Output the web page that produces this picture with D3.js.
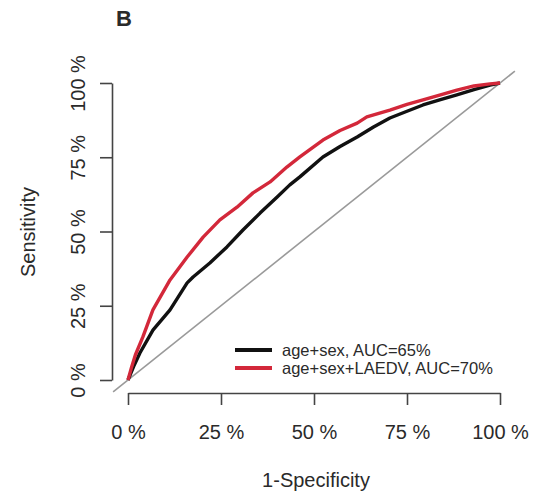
<!DOCTYPE html>
<html>
<head>
<meta charset="utf-8">
<script src="https://cdn.jsdelivr.net/npm/d3@7"></script>
<style>
  body { margin: 0; background: #fff; }
  text { font-family: "Liberation Sans", Arial, sans-serif; fill: #2a2a2a; }
</style>
</head>
<body>
<svg id="chart"></svg>
<script>
// ROC data (1-specificity, sensitivity)
var fprBase = [0, 0.015, 0.032, 0.067, 0.113, 0.159, 0.175, 0.22, 0.266, 0.309, 0.355, 0.401, 0.435, 0.462, 0.524, 0.57, 0.616, 0.66, 0.704, 0.75, 0.793, 0.84, 0.884, 0.93, 0.973, 1];
var tprBase = [0, 0.045, 0.091, 0.168, 0.236, 0.327, 0.347, 0.394, 0.448, 0.505, 0.562, 0.616, 0.657, 0.684, 0.751, 0.786, 0.818, 0.852, 0.882, 0.905, 0.926, 0.944, 0.96, 0.978, 0.993, 1];
var fprLaedv = [0, 0.01, 0.02, 0.04, 0.067, 0.113, 0.159, 0.202, 0.247, 0.293, 0.336, 0.382, 0.427, 0.462, 0.524, 0.57, 0.616, 0.642, 0.704, 0.75, 0.793, 0.84, 0.884, 0.93, 0.973, 1];
var tprLaedv = [0, 0.045, 0.085, 0.145, 0.236, 0.337, 0.414, 0.481, 0.539, 0.582, 0.63, 0.667, 0.717, 0.751, 0.808, 0.84, 0.865, 0.886, 0.909, 0.928, 0.943, 0.96, 0.976, 0.99, 0.997, 1];

var tickValues = [0, 0.25, 0.5, 0.75, 1];
var legendLabels = ["age+sex, AUC=65%", "age+sex+LAEDV, AUC=70%"];
var seriesColors = ["#111111", "#d3283a"];

var svg = d3.select('#chart')
    .attr('width', 545)
    .attr('height', 503);

var x = d3.scaleLinear().domain([0, 1]).range([128, 500]);
var y = d3.scaleLinear().domain([0, 1]).range([380, 83]);

var pct = function (d) { return Math.round(d * 100) + " %"; };

// panel letter
svg.append("text")
    .attr("x", 124)
    .attr("y", 26)
    .attr("text-anchor", "middle")
    .style("font-size", "22px")
    .style("font-weight", "bold")
    .text("B");

// chance diagonal, extended over the plot region like abline()
var diag = [-0.04, 1.04];
svg.append("line")
    .attr("x1", x(diag[0])).attr("y1", y(diag[0]))
    .attr("x2", x(diag[1])).attr("y2", y(diag[1]))
    .attr("stroke", "#9a9a9a")
    .attr("stroke-width", 1.6);

// curves
var line = d3.line()
    .x(function (d) { return x(d[0]); })
    .y(function (d) { return y(d[1]); });

var series = [d3.zip(fprBase, tprBase), d3.zip(fprLaedv, tprLaedv)];
series.forEach(function (s, i) {
    svg.append("path")
        .datum(s)
        .attr("d", line)
        .attr("fill", "none")
        .attr("stroke", seriesColors[i])
        .attr("stroke-width", 3.4)
        .attr("stroke-linejoin", "round");
});

// x axis
var xAxis = d3.axisBottom(x)
    .tickValues(tickValues)
    .tickSize(12)
    .tickSizeOuter(0)
    .tickPadding(20)
    .tickFormat(pct);

var gx = svg.append("g")
    .attr("transform", "translate(0,393)")
    .call(xAxis);
gx.selectAll("text").style("font-size", "20px").attr("fill", "#2a2a2a");

// y axis, labels rotated as in base R
var yAxis = d3.axisLeft(y)
    .tickValues(tickValues)
    .tickSize(12)
    .tickSizeOuter(0)
    .tickFormat(pct);

var gy = svg.append("g")
    .attr("transform", "translate(112,0)")
    .call(yAxis);
gy.selectAll("text")
    .attr("x", 0)
    .attr("dy", 0)
    .attr("text-anchor", "middle")
    .attr("transform", "translate(-27,0) rotate(-90)")
    .style("font-size", "20px")
    .attr("fill", "#2a2a2a");

svg.selectAll(".domain, .tick line")
    .attr("stroke", "#444")
    .attr("stroke-width", 1.6);

// axis titles
svg.append("text")
    .attr("x", 316)
    .attr("y", 487)
    .attr("text-anchor", "middle")
    .style("font-size", "20px")
    .text("1-Specificity");

svg.append("text")
    .attr("transform", "translate(35,232) rotate(-90)")
    .attr("text-anchor", "middle")
    .style("font-size", "20px")
    .text("Sensitivity");

// legend (no box)
var legend = svg.append("g")
    .attr("transform", "translate(235,350)");

var items = legend.selectAll("g")
    .data(legendLabels)
    .enter().append("g")
    .attr("transform", function (d, i) { return "translate(0," + (i * 18) + ")"; });

items.append("line")
    .attr("x1", 0).attr("x2", 37)
    .attr("stroke", function (d, i) { return seriesColors[i]; })
    .attr("stroke-width", 4);

items.append("text")
    .attr("x", 47)
    .attr("dy", "0.35em")
    .style("font-size", "16.5px")
    .text(function (d) { return d; });
</script>
</body>
</html>
